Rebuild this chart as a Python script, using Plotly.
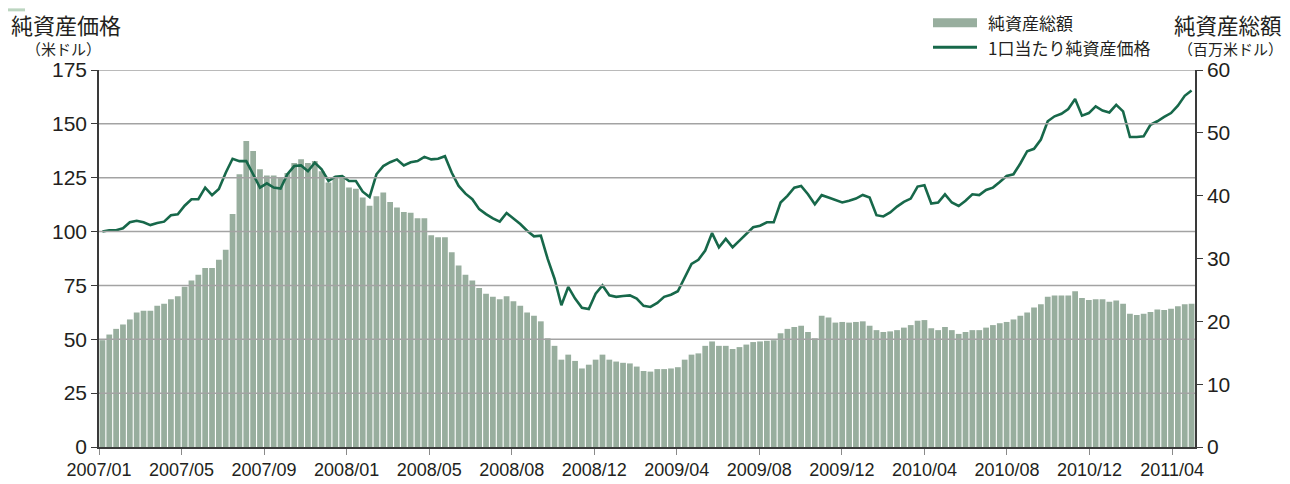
import plotly.graph_objects as go

# ---------------- data ----------------
tick_labels = ["2007/01", "2007/05", "2007/09", "2008/01", "2008/05", "2008/08",
               "2008/12", "2009/04", "2009/08", "2009/12", "2010/04", "2010/08",
               "2010/12", "2011/04"]

nav_part1 = [100, 100.6, 100.6, 101.5, 104.3, 105, 104.3, 103, 104, 104.6,
             107.6, 108, 112, 115, 115, 120.4, 116.9, 119.8, 127.3, 133.8,
             132.7, 132.7, 126.6, 120.4, 122.4, 120.4, 120, 126.6, 130.4, 130.7,
             128, 132, 128.9, 123.5, 125.5, 125.8, 123.5, 123.5, 118.5, 116]
nav_part2 = [126.6, 130.4, 132.2, 133.5, 130.7, 132.2, 132.7, 134.7, 133.5, 133.8,
             135, 127.3, 121.2, 117.6, 115, 110.4, 108.1, 106.1, 104.6, 108.6,
             106.1, 103.5, 100.4, 97.8, 98.1, 87.3, 78.1, 65.8, 74.3, 68.9,
             64.6, 64, 71.2, 75, 70.4, 69.7, 70.1, 70.4, 68.9, 65.5, 65]
nav_part3 = [66.9, 69.7, 70.7, 72.3, 78.9, 85, 86.9, 91.2, 99.3, 92.7,
             96.6, 92.7, 95.8, 98.9, 102, 102.7, 104.3, 104.3, 113.5, 116.6,
             120.4, 121.2, 117.3, 112.7, 116.9, 115.8, 114.7, 113.5, 114.3, 115.3,
             117, 115.8, 107.6, 107, 108.9, 111.6, 113.8, 115.3, 120.9, 121.5]
nav_part4 = [113, 113.5, 117.3, 113.5, 111.9, 114.3, 117.3, 116.9, 119.3, 120.4,
             123, 125.8, 126.6, 131.6, 137.3, 138.4, 142.7, 151.2, 153.5, 154.7,
             156.9, 161.5, 153.8, 155, 158.1, 156.2, 155.3, 158.8, 155.8, 143.9,
             143.9, 144.2, 149.6, 151.2, 153.2, 155, 158.4, 163, 165.5]

aum_part1 = [17.0, 17.9, 18.8, 19.5, 20.3, 21.4, 21.7, 21.7, 22.5, 22.8,
             23.5, 24.0, 25.5, 26.5, 27.4, 28.5, 28.5, 29.8, 31.4, 37.1,
             43.4, 48.7, 47.1, 44.2, 43.2, 43.2, 42.8, 43.6, 45.2, 45.8,
             45.2, 45.5, 43.9, 42.1, 42.9, 43.0, 41.3, 41.1, 39.7, 38.4]
aum_part2 = [39.9, 40.5, 39.0, 38.1, 37.4, 37.3, 36.4, 36.4, 33.7, 33.4,
             33.4, 31.0, 28.9, 27.4, 26.5, 25.3, 24.4, 23.9, 23.5, 24.0,
             23.2, 22.5, 21.4, 20.9, 20.0, 17.3, 16.1, 13.9, 14.7, 13.7,
             12.5, 13.1, 13.9, 14.7, 13.9, 13.6, 13.4, 13.3, 12.8, 12.1, 12.0]
aum_part3 = [12.4, 12.4, 12.5, 12.7, 13.9, 14.7, 14.9, 16.1, 16.8, 16.1,
             16.1, 15.6, 15.9, 16.3, 16.7, 16.8, 16.9, 17.0, 18.1, 18.8,
             19.1, 19.3, 18.3, 17.3, 20.9, 20.6, 19.8, 19.9, 19.8, 19.9,
             20.0, 19.3, 18.6, 18.3, 18.4, 18.6, 19.0, 19.4, 20.1, 20.2]
aum_part4 = [18.9, 18.6, 19.1, 18.6, 18.0, 18.3, 18.6, 18.6, 19.0, 19.4,
             19.7, 19.9, 20.3, 20.9, 21.4, 22.2, 22.7, 23.9, 24.1, 24.1,
             24.1, 24.8, 23.7, 23.4, 23.5, 23.5, 23.1, 23.3, 22.8, 21.2,
             21.0, 21.2, 21.5, 21.9, 21.8, 22.0, 22.4, 22.7, 22.8]

nav = nav_part1 + nav_part2 + nav_part3 + nav_part4
aum = aum_part1 + aum_part2 + aum_part3 + aum_part4
n = min(len(nav), len(aum))
nav, aum = nav[:n], aum[:n]
xs = list(range(n))

left_ticks = list(range(0, 176, 25))
right_ticks = list(range(0, 61, 10))

# ---------------- style ----------------
BAR = "#98ae9e"
LINE = "#17684a"
TXT = "#231f20"
FONT = "Liberation Sans, Arial, Noto Sans CJK JP, sans-serif"
JFONT = "Noto Sans CJK JP, sans-serif"

W, H = 1290, 484
OFF = 8                      # page body margin of the browser
PL, PR, PT, PB = 99, 1195, 70, 449.3   # plot box on screen
L = PL - OFF
T = PT - OFF
pw, ph = PR - PL, PB - PT
R = W - L - pw
B = H - T - ph


def px(x):
    return (x - PL) / pw


def py(y):
    return (PB - y) / ph


fig = go.Figure()
fig.add_trace(go.Bar(x=xs, y=aum, marker=dict(color=BAR, line=dict(width=0)),
                     yaxis="y", name="純資産総額", showlegend=False))
fig.add_trace(go.Scatter(x=xs, y=nav, mode="lines", line=dict(color=LINE, width=2.6),
                         yaxis="y2", name="1口当たり純資産価格", showlegend=False))

# gridlines above the bars (as in the reference)
for v in left_ticks[1:]:
    fig.add_shape(type="line", xref="paper", x0=0, x1=1, yref="y2", y0=v, y1=v,
                  line=dict(color="#a3a3a3", width=1.5), layer="above")

step = 12.05
tickvals = [-0.5 + k * step for k in range(len(tick_labels))]

fig.update_layout(
    width=W, height=H,
    margin=dict(l=L, r=R, t=T, b=B, pad=0),
    paper_bgcolor="white", plot_bgcolor="white",
    bargap=0.16,
    font=dict(family=FONT, color=TXT),
    xaxis=dict(range=[-0.5, n - 0.5], tickvals=tickvals, ticktext=tick_labels,
               showgrid=False, zeroline=False, showline=True, linecolor="#3a3a3a",
               linewidth=1.5, ticks="outside", ticklen=6, tickcolor="#8a8a8a",
               tickfont=dict(size=18, family=FONT, color=TXT)),
    yaxis=dict(range=[0, 60], tickvals=right_ticks, side="right",
               showgrid=False, zeroline=False, showline=True, linecolor="#3a3a3a",
               linewidth=1.5, ticks="outside", ticklen=6, tickcolor="#3a3a3a",
               tickfont=dict(size=21, family=FONT, color=TXT)),
    yaxis2=dict(range=[0, 175], tickvals=left_ticks, side="left", overlaying="y",
                showgrid=False, zeroline=False, showline=True, linecolor="#3a3a3a",
                linewidth=1.5, ticks="outside", ticklen=6, tickcolor="#3a3a3a",
                tickfont=dict(size=21, family=FONT, color=TXT)),
)

# axis titles
anns = [
    dict(text="純資産価格", x=px(66), y=py(24), size=22),
    dict(text="（米ドル）", x=px(63), y=py(48), size=15),
    dict(text="純資産総額", x=px(1228), y=py(24), size=21.5),
    dict(text="（百万米ドル）", x=px(1230), y=py(48), size=15),
]
for a in anns:
    fig.add_annotation(text=a["text"], xref="paper", yref="paper", x=a["x"], y=a["y"],
                       xanchor="center", yanchor="middle", showarrow=False,
                       font=dict(size=a["size"], family=JFONT, color=TXT))

# custom legend
fig.add_shape(type="rect", xref="paper", yref="paper", x0=px(933), x1=px(977),
              y0=py(27), y1=py(18), fillcolor=BAR, line=dict(width=0))
fig.add_shape(type="line", xref="paper", yref="paper", x0=px(933), x1=px(977),
              y0=py(47), y1=py(47), line=dict(color=LINE, width=3))
fig.add_annotation(text="純資産総額", xref="paper", yref="paper", x=px(986), y=py(22),
                   xanchor="left", yanchor="middle", showarrow=False,
                   font=dict(size=17, family=JFONT, color=TXT))
fig.add_annotation(text="1口当たり純資産価格", xref="paper", yref="paper", x=px(986), y=py(47),
                   xanchor="left", yanchor="middle", showarrow=False,
                   font=dict(size=17, family=JFONT, color=TXT))

# small corner tab at top-left (visible part)
fig.add_shape(type="rect", xref="paper", yref="paper", x0=px(OFF), x1=px(25),
              y0=py(OFF + 3), y1=py(OFF), fillcolor="#bcd5c0", line=dict(width=0))

fig.write_html("out.html", config={"displayModeBar": False})
